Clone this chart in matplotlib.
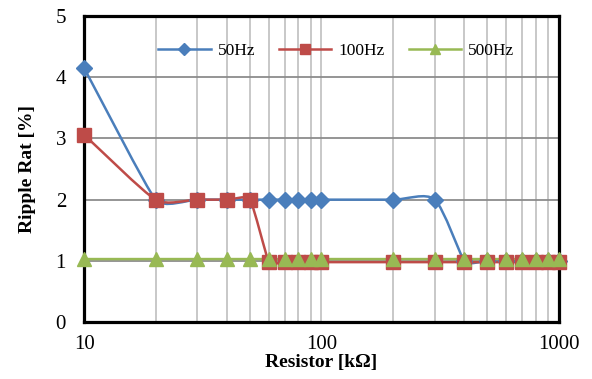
import numpy as np
import matplotlib.pyplot as plt
from matplotlib.path import Path
from matplotlib.patches import PathPatch

# Data
resistor = [10, 20, 30, 40, 50, 60, 70, 80, 90, 100,
            200, 300, 400, 500, 600, 700, 800, 900, 1000]
ripple_50hz = [4.15, 2.0, 2.0, 2.0, 2.0, 2.0, 2.0, 2.0, 2.0, 2.0,
               2.0, 2.0, 1.0, 1.0, 1.0, 1.0, 1.0, 1.0, 1.0]
ripple_100hz = [3.06, 2.0, 2.0, 2.0, 2.0, 0.98, 0.98, 0.98, 0.98, 0.98,
                0.98, 0.98, 0.98, 0.98, 0.98, 0.98, 0.98, 0.98, 0.98]
ripple_500hz = [1.03, 1.03, 1.03, 1.03, 1.03, 1.03, 1.03, 1.03, 1.03, 1.03,
                1.03, 1.03, 1.03, 1.03, 1.03, 1.03, 1.03, 1.03, 1.03]

series = [
    ('50Hz', ripple_50hz, '#4A7EBB', 'D', 8.5),
    ('100Hz', ripple_100hz, '#BE4B48', 's', 9.5),
    ('500Hz', ripple_500hz, '#98B954', '^', 10),
]

plt.rcParams['font.family'] = ['Liberation Serif', 'DejaVu Serif']


def smooth_path(ax, x, y):
    # Smoothed line like Excel: cubic Bezier through the points. Tangents are
    # Catmull-Rom style, shrunk by the shorter neighbouring segment (screen
    # length) so a long steep segment does not overshoot the short one.
    P = ax.transData.transform(np.column_stack([x, y]))
    n = len(P)
    d = np.linalg.norm(np.diff(P, axis=0), axis=1)

    def weight(i):
        d_in = d[i - 1] if i > 0 else d[i]
        d_out = d[i] if i < n - 1 else d[i - 1]
        return min(d_in, d_out) / (d_in + d_out)

    verts = [P[0]]
    codes = [Path.MOVETO]
    for i in range(n - 1):
        p1, p2 = P[i], P[i + 1]
        p0 = P[max(i - 1, 0)]
        p3 = P[min(i + 2, n - 1)]
        c1 = p1 + (p2 - p0) * weight(i) / 3.0
        c2 = p2 - (p3 - p1) * weight(i + 1) / 3.0
        verts += [c1, c2, p2]
        codes += [Path.CURVE4] * 3
    verts = ax.transData.inverted().transform(np.array(verts))
    return Path(verts, codes)


fig = plt.figure(figsize=(5.92, 3.79), dpi=100)
ax = fig.add_axes([0.142, 0.150, 0.802, 0.808])

ax.set_xscale('log')
ax.set_xlim(10, 1000)
ax.set_ylim(0, 5)

for label, vals, color, marker, ms in series:
    patch = PathPatch(smooth_path(ax, resistor, vals), facecolor='none',
                      edgecolor=color, linewidth=1.8, zorder=3)
    ax.add_patch(patch)
    ax.plot(resistor, vals, linestyle='none', marker=marker, markersize=ms,
            color=color, zorder=6, clip_on=False)
    # proxy for the legend (smaller markers, like the reference)
    ax.plot([], [], '-', color=color, linewidth=1.8, marker=marker,
            markersize=ms * 0.72, label=label)

ax.set_yticks([0, 1, 2, 3, 4, 5])
ax.set_xticks([10, 100, 1000])
ax.set_xticklabels(['10', '100', '1000'])
ax.set_xticks([20, 30, 40, 50, 60, 70, 80, 90, 200, 300, 400, 500, 600,
               700, 800, 900], minor=True)
ax.xaxis.set_minor_formatter(plt.NullFormatter())

ax.grid(True, axis='y', which='major', color='#8C8C8C', linewidth=1.3, zorder=1)
ax.grid(True, axis='x', which='both', color='#C4C4C4', linewidth=1.3, zorder=1)
ax.set_axisbelow(True)

ax.tick_params(axis='both', which='both', length=0, labelsize=15)
ax.tick_params(axis='x', pad=9)
ax.tick_params(axis='y', pad=13)

for sp in ax.spines.values():
    sp.set_linewidth(2.3)
    sp.set_color('black')
    sp.set_zorder(5)

ax.set_xlabel('Resistor [k\u03a9]', fontsize=14, fontweight='bold', labelpad=0)
ax.set_ylabel('Ripple Rat [%]', fontsize=14, fontweight='bold', labelpad=14)

ax.legend(loc='center left', bbox_to_anchor=(0.142, 0.885), ncol=3,
          frameon=False, fontsize=12.5, handlelength=3.0, columnspacing=1.4,
          handletextpad=0.4, borderaxespad=0)

fig.savefig('out.png', dpi=100)
